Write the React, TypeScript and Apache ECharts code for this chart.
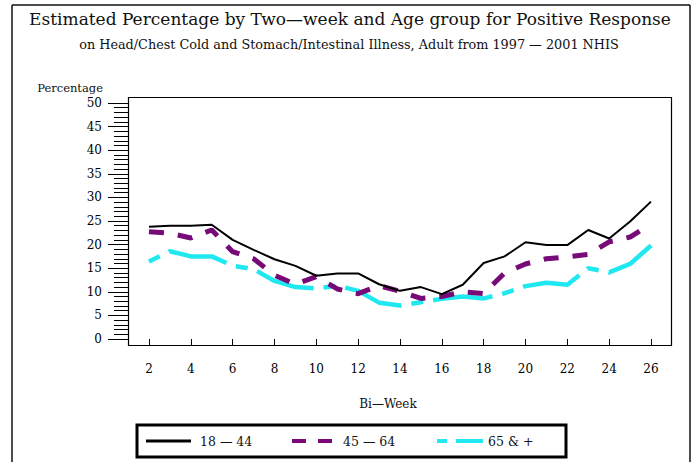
import React, { useEffect, useRef } from "react";
import * as echarts from "echarts";

const weeks = [2, 3, 4, 5, 6, 7, 8, 9, 10, 11, 12, 13, 14, 15, 16, 17, 18, 19, 20, 21, 22, 23, 24, 25, 26];
const age18to44 = [23.8, 24.0, 24.0, 24.2, 21.0, 18.9, 16.9, 15.5, 13.4, 13.9, 13.9, 11.6, 10.2, 11.0, 9.5, 11.5, 16.1, 17.5, 20.5, 19.9, 19.9, 23.1, 21.3, 24.9, 29.1];
const age45to64 = [22.7, 22.4, 21.4, 23.1, 18.5, 17.0, 13.5, 11.6, 13.2, 10.6, 9.6, 11.3, 10.1, 8.6, 9.0, 10.0, 9.6, 14.0, 15.9, 17.0, 17.4, 17.9, 20.6, 21.6, 24.4];
const age65plus = [16.4, 18.6, 17.5, 17.5, 15.5, 14.8, 12.3, 11.0, 10.7, 11.3, 10.2, 7.7, 7.1, 7.8, 8.5, 9.0, 8.6, 9.7, 11.2, 11.9, 11.5, 15.0, 14.1, 15.9, 19.8];
const seriesNames = ["18 \u2014 44", "45 \u2014 64", "65 & +"];

const FONT = "DejaVu Serif";

export default function App() {
  const ref = useRef<HTMLDivElement>(null);
  useEffect(() => {
    if (!ref.current) return;
    const chart = echarts.init(ref.current, null, { renderer: "svg" });
    const toPairs = (vals: number[]) => weeks.map((w, i) => [w, vals[i]]);
    const black = "#000000";
    const purple = "#770a77";
    const cyan = "#1fe8f0";
    const legendY = 441;
    chart.setOption({
      animation: false,
      backgroundColor: "#ffffff",
      grid: { left: 149, right: 47, top: 103, bottom: 123, show: false },
      xAxis: {
        type: "value",
        min: 2,
        max: 26,
        interval: 2,
        offset: 7,
        axisLine: { show: false },
        axisTick: { show: true, length: 7, lineStyle: { color: "#000", width: 1 } },
        axisLabel: { margin: 17, color: "#000", fontFamily: FONT, fontSize: 12 },
        splitLine: { show: false },
      },
      yAxis: {
        type: "value",
        min: 0,
        max: 50,
        interval: 5,
        offset: 21,
        axisLine: { show: false },
        axisTick: { show: true, length: 20, lineStyle: { color: "#000", width: 1 } },
        minorTick: { show: true, splitNumber: 5, length: 14, lineStyle: { color: "#000", width: 1 } },
        axisLabel: { margin: 26, color: "#000", fontFamily: FONT, fontSize: 12 },
        splitLine: { show: false },
        minorSplitLine: { show: false },
      },
      series: [
        {
          name: seriesNames[0],
          type: "line",
          data: toPairs(age18to44),
          showSymbol: false,
          symbol: "none",
          lineStyle: { color: black, width: 2 },
          z: 3,
        },
        {
          name: seriesNames[1],
          type: "line",
          data: toPairs(age45to64),
          showSymbol: false,
          symbol: "none",
          lineStyle: { color: purple, width: 5, type: [15, 14] },
          z: 2,
        },
        {
          name: seriesNames[2],
          type: "line",
          data: toPairs(age65plus),
          showSymbol: false,
          symbol: "none",
          lineStyle: { color: cyan, width: 4.5, type: [12, 10, 60, 10] },
          z: 1,
        },
      ],
      graphic: [
        // outer frame
        { type: "line", shape: { x1: 12, y1: 5, x2: 690, y2: 5 }, style: { stroke: "#111", lineWidth: 1.5 } },
        { type: "line", shape: { x1: 12, y1: 5, x2: 12, y2: 462 }, style: { stroke: "#111", lineWidth: 1.5 } },
        { type: "line", shape: { x1: 690, y1: 5, x2: 690, y2: 462 }, style: { stroke: "#111", lineWidth: 1.5 } },
        // plot box
        { type: "rect", shape: { x: 128.5, y: 97.5, width: 543, height: 248 }, style: { fill: "none", stroke: "#000", lineWidth: 1.2 }, z: 10 },
        // titles
        {
          type: "text",
          x: 350,
          y: 19,
          style: {
            text: "Estimated Percentage by Two\u2014week and Age group for Positive Response",
            font: `17px "${FONT}"`,
            fill: "#111",
            textAlign: "center",
            textVerticalAlign: "middle",
          },
        },
        {
          type: "text",
          x: 349,
          y: 44,
          style: {
            text: "on Head/Chest Cold and Stomach/Intestinal Illness, Adult from 1997 \u2014 2001 NHIS",
            font: `12.8px "${FONT}"`,
            fill: "#111",
            textAlign: "center",
            textVerticalAlign: "middle",
          },
        },
        {
          type: "text",
          x: 103,
          y: 88,
          style: { text: "Percentage", font: `11.5px "${FONT}"`, fill: "#111", textAlign: "right", textVerticalAlign: "middle" },
        },
        {
          type: "text",
          x: 388,
          y: 404,
          style: { text: "Bi\u2014Week", font: `12px "${FONT}"`, fill: "#111", textAlign: "center", textVerticalAlign: "middle" },
        },
        // legend box
        { type: "rect", shape: { x: 137, y: 425, width: 429, height: 32 }, style: { fill: "#fff", stroke: "#000", lineWidth: 3 }, z: 10 },
        { type: "line", shape: { x1: 146, y1: legendY, x2: 191, y2: legendY }, style: { stroke: black, lineWidth: 3 }, z: 11 },
        { type: "text", x: 200, y: legendY, style: { text: seriesNames[0], font: `12.5px "${FONT}"`, fill: "#111", textVerticalAlign: "middle" }, z: 11 },
        { type: "line", shape: { x1: 292, y1: legendY, x2: 306, y2: legendY }, style: { stroke: purple, lineWidth: 4 }, z: 11 },
        { type: "line", shape: { x1: 318, y1: legendY, x2: 332, y2: legendY }, style: { stroke: purple, lineWidth: 4 }, z: 11 },
        { type: "text", x: 343, y: legendY, style: { text: seriesNames[1], font: `12.5px "${FONT}"`, fill: "#111", textVerticalAlign: "middle" }, z: 11 },
        { type: "line", shape: { x1: 437, y1: legendY, x2: 447, y2: legendY }, style: { stroke: cyan, lineWidth: 4 }, z: 11 },
        { type: "line", shape: { x1: 456, y1: legendY, x2: 483, y2: legendY }, style: { stroke: cyan, lineWidth: 4 }, z: 11 },
        { type: "text", x: 488, y: legendY, style: { text: seriesNames[2], font: `12.5px "${FONT}"`, fill: "#111", textVerticalAlign: "middle" }, z: 11 },
      ],
    });
    return () => chart.dispose();
  }, []);
  return <div ref={ref} style={{ width: 698, height: 462, position: "absolute", left: 0, top: 0 }} />;
}
